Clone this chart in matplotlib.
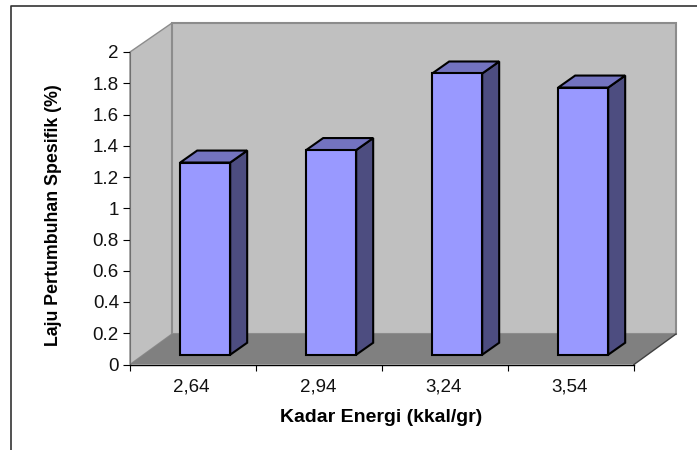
import matplotlib
matplotlib.use('Agg')
import matplotlib.pyplot as plt
from matplotlib.patches import Polygon
from matplotlib.lines import Line2D

categories = ['2,64', '2,94', '3,24', '3,54']
values = [1.23, 1.31, 1.80, 1.71]
yticks = [0, 0.2, 0.4, 0.6, 0.8, 1, 1.2, 1.4, 1.6, 1.8, 2]
ytick_labels = ['0', '0.2', '0.4', '0.6', '0.8', '1', '1.2', '1.4', '1.6', '1.8', '2']

W, H = 697, 450
plt.rcParams['font.family'] = 'Liberation Sans'
fig = plt.figure(figsize=(W / 100, H / 100), dpi=100)

# front plane of the 3d box, in pixels
left, right, top, bottom = 130, 634, 52, 364.5
ax = fig.add_axes([left / W, 1 - bottom / H, (right - left) / W, (bottom - top) / H])
ax.set_xlim(0, 4)
ax.set_ylim(0, 2)
ax.patch.set_visible(False)

# depth of the box in data units
dx = 42 / 126
dy = 30.5 / 156.25
wall_top = 2 + 29 / 156.25
bar_w = 50 / 126
start_x = 0.29
start_y = 0.32
bar_dx = 17 / 126
bar_dy = 12 / 156.25


def poly(pts, fc, ec='none', lw=0, z=1):
    ax.add_patch(Polygon(pts, closed=True, facecolor=fc, edgecolor=ec, linewidth=lw,
                         zorder=z, clip_on=False, joinstyle='miter'))


# walls and floor
poly([(0, 0), (dx, dy), (dx, wall_top), (0, 2)], '#c0c0c0', '#8c8c8c', 1)
poly([(dx, dy), (4 + dx, dy), (4 + dx, wall_top), (dx, wall_top)], '#c0c0c0', '#8c8c8c', 1.5)
poly([(0, 0), (dx, dy), (4 + dx, dy), (4, 0)], '#808080', z=1.5)
ax.plot([4, 4 + dx], [0, dy], color='#404040', lw=1, clip_on=False, zorder=1.6)

# bars
for i, v in enumerate(values):
    x0 = i + 0.5 - bar_w / 2 + start_x * dx
    x1 = x0 + bar_w
    y0 = start_y * dy
    y1 = y0 + v
    poly([(x1, y0), (x1 + bar_dx, y0 + bar_dy), (x1 + bar_dx, y1 + bar_dy), (x1, y1)],
         '#4d4d80', 'black', 1.5, 3)
    poly([(x0, y1), (x1, y1), (x1 + bar_dx, y1 + bar_dy), (x0 + bar_dx, y1 + bar_dy)],
         '#7373bf', 'black', 1.5, 3)
    poly([(x0, y0), (x1, y0), (x1, y1), (x0, y1)], '#9999ff', 'black', 1.5, 4)

for s in ['top', 'right']:
    ax.spines[s].set_visible(False)
ax.spines['left'].set_color('#707070')
ax.spines['left'].set_linewidth(0.8)
ax.spines['bottom'].set_linewidth(1)
ax.spines['bottom'].set_zorder(5)

ax.set_yticks(yticks)
ax.set_yticklabels(ytick_labels, fontsize=13.5, color='#111111')
ax.tick_params(axis='y', length=5, width=0.8, pad=3)
ax.set_xticks(range(5))
ax.set_xticklabels([])
ax.tick_params(axis='x', length=4.5, width=0.8)
ax.set_xticks([i + 0.49 for i in range(4)], minor=True)
ax.set_xticklabels(categories, minor=True, fontsize=13.5, color='#111111')
ax.tick_params(axis='x', which='minor', length=0, pad=10)

fig.text(54 / W, 1 - 215 / H, 'Laju Pertumbuhan Spesifik (%)', rotation=90,
         ha='center', va='center', fontsize=12.8, fontweight='bold', color='black')
fig.text(381 / W, 1 - 418 / H, 'Kadar Energi (kkal/gr)',
         ha='center', va='center', fontsize=14, fontweight='bold', color='black')

# outer frame
fig.add_artist(Line2D([10.5 / W, 10.5 / W, 1], [0, 1 - 5.5 / H, 1 - 5.5 / H],
                      color='#333333', lw=1.2))

fig.savefig('out.png', dpi=100)
